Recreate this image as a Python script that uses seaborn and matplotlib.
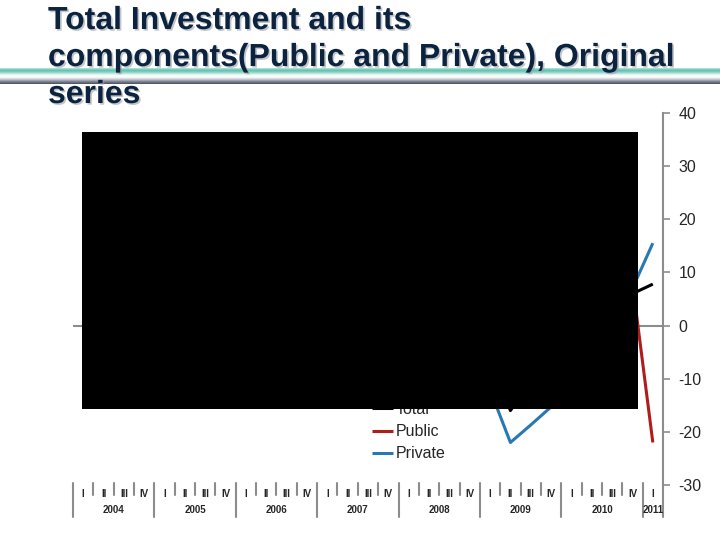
import numpy as np
import pandas as pd
import seaborn as sns
import matplotlib.pyplot as plt
import matplotlib.patheffects as pe
from matplotlib.colors import LinearSegmentedColormap
from matplotlib.patches import Rectangle

# quarterly data, 2004 Q1 .. 2011 Q1
years = ["2004", "2005", "2006", "2007", "2008", "2009", "2010", "2011"]
quarter_names = ["I", "II", "III", "IV"]
quarter_labels = [q for y in years for q in quarter_names][:29]

total = [8, 9, 10, 6, 5, 9, 14, 11, 13, 16, 12, 15, 18, 14, 17, 20,
         16, 12, 8, 2, -6, -16, -10, -4, 4, 9, 7, 6, 7.8]
public = [12, 13, 5, 20, 8, 12, 18, 25, 10, 14, 20, 28, 12, 18, 22, 30,
          15, 10, 20, 25, 18, 12, 22, 28, 10, 5, 15, 8, -22]
private = [6, 7, 8, 4, 2, 7, 10, 5, 12, 15, 9, 13, 20, 14, 18, 22,
           17, 14, 6, -3, -12.1, -22, -18.7, -15.3, -5, 5, 3, 7, 15.5]

series_names = ["Total", "Public", "Private"]
colors = {"Total": "#000000", "Public": "#b01c1c", "Private": "#2878b4"}

n = len(quarter_labels)
df = pd.DataFrame({
    "pos": list(range(n)) * 3,
    "value": total + public + private,
    "series": [s for s in series_names for _ in range(n)],
})

sns.set_style("white")
plt.rcParams["font.family"] = ["Liberation Sans", "DejaVu Sans"]
plt.rcParams["axes.unicode_minus"] = False

fig = plt.figure(figsize=(7.2, 5.4), dpi=100)

# gradient bar behind the title
bar_ax = fig.add_axes([0, 1 - 84 / 540, 1, 16 / 540], zorder=-1)
bar_cmap = LinearSegmentedColormap.from_list(
    "bar", ["#b4e6dc", "#5cc0ae", "#9ad8cc", "#f2faf8", "#ffffff",
            "#c4c8d0", "#7a8090", "#4a5262"])
bar_ax.imshow(np.linspace(0, 1, 64).reshape(-1, 1), aspect="auto", cmap=bar_cmap,
              extent=[0, 1, 0, 1])
bar_ax.set_axis_off()

title_lines = ["Total Investment and its",
               "components(Public and Private), Original",
               "series"]
for line, yb in zip(title_lines, [29, 66, 103]):
    fig.text(48 / 720, 1 - yb / 540, line, fontsize=23, fontweight="bold",
             color="#0c2340", va="baseline", ha="left",
             path_effects=[pe.SimplePatchShadow(offset=(1.2, -1.2), shadow_rgbFace="#9aa0a8", alpha=0.6),
                           pe.Normal()])

ax = fig.add_axes([73 / 720, 1 - 485 / 540, 590 / 720, 372 / 540])
ax.axhline(0, color="#8c8c8c", lw=1.5, zorder=1)
sns.lineplot(data=df, x="pos", y="value", hue="series", palette=colors,
             hue_order=series_names, linewidth=2.2, ax=ax,
             solid_capstyle="butt", solid_joinstyle="round")

ax.set_xlim(-0.5, n - 0.5)
ax.set_ylim(-30, 40)
ax.set_yticks(range(-30, 41, 10))
ax.yaxis.tick_right()
ax.tick_params(axis="y", direction="out", length=5, width=1.2, color="#8c8c8c",
               labelsize=11.5, pad=6)
ax.set_xticks(range(n))
ax.set_xticklabels(quarter_labels, fontsize=7, fontweight="bold")
ax.tick_params(axis="x", length=0, pad=3)
ax.set_xlabel("")
ax.set_ylabel("")
for side in ["top", "left", "bottom"]:
    ax.spines[side].set_visible(False)
ax.spines["right"].set_color("#8c8c8c")
ax.spines["right"].set_linewidth(1.5)

# quarter / year separators under the axis
xt = ax.get_xaxis_transform()
for k in range(n + 1):
    long_sep = (k % 4 == 0) or k == n
    ax.plot([k - 0.5, k - 0.5], [0.005, -0.086 if long_sep else -0.026],
            transform=xt, clip_on=False, color="#8c8c8c", lw=1.5)
for i, yr in enumerate(years):
    first = i * 4
    last = min(first + 3, n - 1)
    ax.text((first + last) / 2, -0.067, yr, transform=xt, ha="center", va="center",
            fontsize=7, fontweight="bold")

sns.move_legend(ax, "upper left", bbox_to_anchor=(372 / 720, 1 - 402 / 540),
                bbox_transform=fig.transFigure, frameon=False, title=None,
                fontsize=11.5, handlelength=1.3, handletextpad=0.2,
                labelspacing=0.45, borderpad=0, borderaxespad=0)

# black block covering the plot area, as in the source picture
fig.add_artist(Rectangle((82 / 720, 1 - 409 / 540), (638 - 82) / 720, (409 - 132) / 540,
                         transform=fig.transFigure, facecolor="black",
                         edgecolor="none", zorder=10))

fig.savefig("out.png", dpi=100)
